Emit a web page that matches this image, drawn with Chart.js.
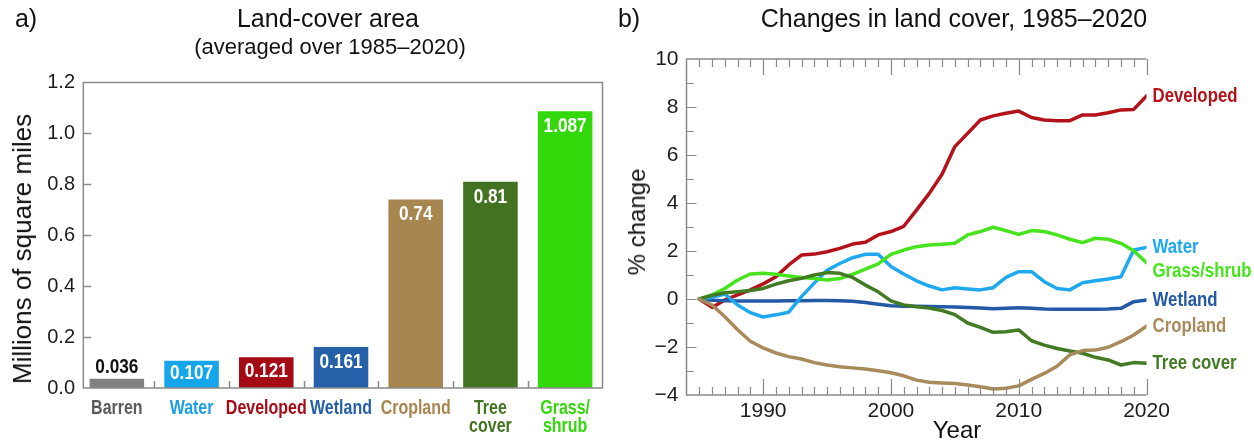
<!DOCTYPE html>
<html>
<head>
<meta charset="utf-8">
<script src="https://cdn.jsdelivr.net/npm/chart.js@4.4.1/dist/chart.umd.min.js"></script>
<style>
  html, body { margin: 0; padding: 0; background: #fff; }
  body { width: 1254px; height: 442px; position: relative; overflow: hidden;
         font-family: "Liberation Sans", Arial, sans-serif; color: #111; }
  .pane { position: absolute; top: 0; height: 442px; }
  .txt { position: absolute; white-space: nowrap; line-height: 1;
         transform: translate(-50%, -50%); }
  .rot { transform: translate(-50%, -50%) rotate(-90deg); }
</style>
</head>
<body>
<div class="pane" style="left:0;width:620px"><canvas id="areaChart" width="620" height="442"></canvas></div>
<div class="pane" style="left:620px;width:634px"><canvas id="changeChart" width="634" height="442"></canvas></div>

<div class="txt" style="left:26px;top:18px;font-size:25px">a)</div>
<div class="txt" style="left:328px;top:18px;font-size:25px">Land-cover area</div>
<div class="txt" style="left:330px;top:47px;font-size:22px">(averaged over 1985–2020)</div>
<div class="txt rot" style="left:22px;top:249px;font-size:26px">Millions of square miles</div>

<div class="txt" style="left:629px;top:18px;font-size:25px">b)</div>
<div class="txt" style="left:954px;top:18px;font-size:25px">Changes in land cover, 1985–2020</div>
<div class="txt rot" style="left:637px;top:222px;font-size:24px">% change</div>
<div class="txt" style="left:957px;top:430px;font-size:24px">Year</div>

<script>
// ---------- Panel a: average land-cover area ----------
const coverClasses = ['Barren', 'Water', 'Developed', 'Wetland', 'Cropland', ['Tree', 'cover'], ['Grass/', 'shrub']];
const coverArea = [0.036, 0.107, 0.121, 0.161, 0.74, 0.81, 1.087];   // millions of sq mi
const areaTicks = [0, 0.2, 0.4, 0.6, 0.8, 1.0, 1.2];

// ---------- Panel b: percent change since 1985 ----------
const years = [1985, 1986, 1987, 1988, 1989, 1990, 1991, 1992, 1993, 1994, 1995, 1996,
               1997, 1998, 1999, 2000, 2001, 2002, 2003, 2004, 2005, 2006, 2007, 2008,
               2009, 2010, 2011, 2012, 2013, 2014, 2015, 2016, 2017, 2018, 2019, 2020];
const developedChange = [0, -0.35, -0.04, 0.17, 0.38, 0.63, 0.93, 1.42, 1.83, 1.87, 1.97, 2.11,
                         2.29, 2.36, 2.67, 2.81, 3.03, 3.7, 4.4, 5.2, 6.35, 6.9, 7.46, 7.63,
                         7.74, 7.83, 7.56, 7.46, 7.43, 7.43, 7.67, 7.67, 7.76, 7.88, 7.9, 8.46];
const waterChange = [0, 0.07, 0.21, -0.25, -0.57, -0.75, -0.66, -0.55, 0.1, 0.66, 1.2, 1.48,
                     1.72, 1.86, 1.86, 1.35, 1.04, 0.76, 0.54, 0.38, 0.47, 0.42, 0.38, 0.47,
                     0.9, 1.14, 1.14, 0.72, 0.44, 0.38, 0.68, 0.76, 0.83, 0.93, 2.04, 2.15];
const grassChange = [0, 0.17, 0.44, 0.79, 1.04, 1.07, 1.03, 0.96, 0.9, 0.85, 0.79, 0.85,
                     1.03, 1.24, 1.46, 1.86, 2.04, 2.18, 2.25, 2.28, 2.32, 2.67, 2.81, 2.99,
                     2.85, 2.69, 2.85, 2.81, 2.67, 2.49, 2.35, 2.53, 2.49, 2.32, 2.01, 1.51];
const wetlandChange = [0, -0.05, -0.07, -0.08, -0.08, -0.08, -0.08, -0.07, -0.07, -0.06, -0.06, -0.07,
                       -0.09, -0.15, -0.22, -0.28, -0.3, -0.3, -0.31, -0.32, -0.33, -0.35, -0.38, -0.41,
                       -0.39, -0.36, -0.39, -0.42, -0.43, -0.43, -0.43, -0.43, -0.42, -0.39, -0.11, -0.04];
const croplandChange = [0, -0.25, -0.74, -1.28, -1.76, -2.04, -2.25, -2.4, -2.5, -2.65, -2.75, -2.82,
                        -2.87, -2.92, -2.99, -3.07, -3.2, -3.38, -3.47, -3.5, -3.52, -3.58, -3.66, -3.75,
                        -3.72, -3.62, -3.35, -3.1, -2.8, -2.33, -2.15, -2.13, -2.01, -1.78, -1.5, -1.13];
const treeChange = [0, 0.15, 0.26, 0.3, 0.35, 0.44, 0.62, 0.76, 0.86, 1.0, 1.1, 1.07,
                    0.9, 0.58, 0.3, -0.08, -0.25, -0.32, -0.38, -0.48, -0.65, -1.0, -1.18, -1.39,
                    -1.36, -1.29, -1.74, -1.92, -2.06, -2.17, -2.26, -2.43, -2.54, -2.75, -2.65, -2.68];
const yearTicks = [1990, 2000, 2010, 2020];
const changeTicks = [-4, -2, 0, 2, 4, 6, 8, 10];

// ---------- styling ----------
const FONT = '"Liberation Sans", Arial, sans-serif';
const AXIS_GREY = '#8a8a8a';
const TICK_TEXT = '#1c1c1c';
const NARROW_SCALE = 0.82;   // condensed bold lettering

const barFill = ['#808080', '#14a5ea', '#a50b15', '#2560a8', '#a88650', '#437321', '#33d80b'];
const classText = ['#5b5b5b', '#1a9fe6', '#a50b15', '#2560a8', '#a88650', '#437321', '#33d80b'];

const seriesStyle = [
  { name: 'Cropland',    values: croplandChange,  color: '#a98a5b', nudge: 0 },
  { name: 'Tree cover',  values: treeChange,      color: '#437a24', nudge: 0 },
  { name: 'Grass/shrub', values: grassChange,     color: '#47e41e', nudge: 9 },
  { name: 'Water',       values: waterChange,     color: '#1ea9ef', nudge: 0 },
  { name: 'Wetland',     values: wetlandChange,   color: '#2459a6', nudge: 0 },
  { name: 'Developed',   values: developedChange, color: '#b4121b', nudge: 0 }
];

// bold text squeezed horizontally
function narrowText(ctx, text, x, y, size, color, align) {
  ctx.save();
  ctx.font = 'bold ' + size + 'px ' + FONT;
  ctx.fillStyle = color;
  ctx.textAlign = align;
  ctx.textBaseline = 'middle';
  ctx.translate(x, y);
  ctx.scale(NARROW_SCALE, 1);
  ctx.fillText(text, 0, 0);
  ctx.restore();
}

const AREA_AXIS_X = 83.3;   // drawn y-axis line of panel a

// frame, inward ticks, value and class labels for the bar panel
const areaFrame = {
  id: 'areaFrame',
  afterDatasetsDraw(chart) {
    const { ctx, chartArea: a, scales: { x, y } } = chart;
    ctx.save();
    ctx.strokeStyle = AXIS_GREY;
    ctx.lineWidth = 1.5;
    ctx.strokeRect(AREA_AXIS_X, a.top, a.right - AREA_AXIS_X, a.bottom - a.top);
    ctx.beginPath();
    areaTicks.forEach(v => {
      if (v === areaTicks[0] || v === areaTicks[areaTicks.length - 1]) return;
      const py = Math.round(y.getPixelForValue(v)) + 0.5;
      ctx.moveTo(AREA_AXIS_X, py); ctx.lineTo(AREA_AXIS_X + 8, py);
    });
    for (let i = 0; i < coverClasses.length - 1; i++) {
      const px = Math.round((x.getPixelForValue(i) + x.getPixelForValue(i + 1)) / 2) + 0.5;
      ctx.moveTo(px, a.bottom); ctx.lineTo(px, a.bottom - 7);
    }
    ctx.stroke();
    ctx.restore();

    const meta = chart.getDatasetMeta(0);
    meta.data.forEach((bar, i) => {
      const txt = String(coverArea[i]);
      const h = bar.base - bar.y;
      if (h < 20) {
        narrowText(ctx, txt, bar.x, bar.y - 12, 21, '#111', 'center');
      } else {
        narrowText(ctx, txt, bar.x, Math.min(bar.y + 15, (bar.y + bar.base) / 2 - 1), 21, '#fff', 'center');
      }
      const lines = [].concat(coverClasses[i]);
      lines.forEach((ln, k) => {
        narrowText(ctx, ln, x.getPixelForValue(i), a.bottom + 20.3 + k * 18.4, 19.5, classText[i], 'center');
      });
    });
  }
};

new Chart(document.getElementById('areaChart'), {
  type: 'bar',
  data: {
    labels: coverClasses,
    datasets: [{
      data: coverArea,
      backgroundColor: barFill,
      borderWidth: 0,
      barPercentage: 0.73,
      categoryPercentage: 1
    }]
  },
  options: {
    responsive: false,
    animation: false,
    devicePixelRatio: 1,
    layout: { padding: { top: 82.5, right: 17.5, left: 0, bottom: 0 } },
    plugins: { legend: { display: false }, tooltip: { enabled: false } },
    scales: {
      x: {
        grid: { display: false, drawTicks: false },
        border: { display: false },
        ticks: { display: false },
        afterFit: s => { s.height = 54; }
      },
      y: {
        min: 0, max: 1.2,
        grid: { display: false, drawTicks: false },
        border: { display: false },
        afterBuildTicks: s => { s.ticks = areaTicks.map(v => ({ value: v })); },
        ticks: {
          padding: 4.5, color: TICK_TEXT,
          font: { family: FONT, size: 20 },
          callback: v => Number(v).toFixed(1)
        },
        afterFit: s => { s.width = 79.5; }
      }
    }
  },
  plugins: [areaFrame]
});

// frame, inward ticks and end-of-line labels for the change panel
const changeFrame = {
  id: 'changeFrame',
  afterDatasetsDraw(chart) {
    const { ctx, chartArea: a, scales: { x, y } } = chart;
    ctx.save();
    ctx.strokeStyle = AXIS_GREY;
    ctx.lineWidth = 1.5;
    ctx.beginPath();
    ctx.moveTo(a.right, a.top); ctx.lineTo(a.left, a.top);
    ctx.lineTo(a.left, a.bottom); ctx.lineTo(a.right, a.bottom);
    ctx.stroke();
    ctx.lineWidth = 1.2;
    ctx.beginPath();
    for (let yr = x.min + 1; yr <= x.max; yr++) {
      const len = yr % 10 === 0 ? 16 : 8;
      const px = Math.round(x.getPixelForValue(yr)) + 0.5;
      ctx.moveTo(px, a.top); ctx.lineTo(px, a.top + len);
      ctx.moveTo(px, a.bottom); ctx.lineTo(px, a.bottom - len);
    }
    for (let v = y.min + 1; v < y.max; v++) {
      const len = v % 2 === 0 ? 10 : 7;
      const py = Math.round(y.getPixelForValue(v)) + 0.5;
      ctx.moveTo(a.left, py); ctx.lineTo(a.left + len, py);
    }
    ctx.stroke();
    ctx.restore();

    chart.data.datasets.forEach((ds, i) => {
      const pts = chart.getDatasetMeta(i).data;
      const last = pts[pts.length - 1];
      narrowText(ctx, ds.label, last.x + 6, last.y + seriesStyle[i].nudge, 20.5, ds.borderColor, 'left');
    });
  }
};

new Chart(document.getElementById('changeChart'), {
  type: 'line',
  data: {
    datasets: seriesStyle.map(s => ({
      label: s.name,
      data: years.map((yr, i) => ({ x: yr, y: s.values[i] })),
      borderColor: s.color,
      borderWidth: 3.5,
      pointRadius: 0,
      tension: 0,
      borderJoinStyle: 'round',
      borderCapStyle: 'round',
      fill: false
    }))
  },
  options: {
    responsive: false,
    animation: false,
    devicePixelRatio: 1,
    layout: { padding: { top: 59, right: 107.5, left: 0, bottom: 0 } },
    plugins: { legend: { display: false }, tooltip: { enabled: false } },
    scales: {
      x: {
        type: 'linear', min: 1984, max: 2020,
        grid: { display: false, drawTicks: false },
        border: { display: false },
        afterBuildTicks: s => { s.ticks = yearTicks.map(v => ({ value: v })); },
        ticks: {
          padding: 4, color: TICK_TEXT, maxRotation: 0,
          font: { family: FONT, size: 21 },
          callback: v => String(v)
        },
        afterFit: s => { s.height = 47; }
      },
      y: {
        min: -4, max: 10,
        grid: { display: false, drawTicks: false },
        border: { display: false },
        afterBuildTicks: s => { s.ticks = changeTicks.map(v => ({ value: v })); },
        ticks: {
          padding: 8, color: TICK_TEXT,
          font: { family: FONT, size: 21 },
          callback: v => (v < 0 ? '\u2212' + Math.abs(v) : String(v))
        },
        afterFit: s => { s.width = 66.5; }
      }
    }
  },
  plugins: [changeFrame]
});
</script>
</body>
</html>
